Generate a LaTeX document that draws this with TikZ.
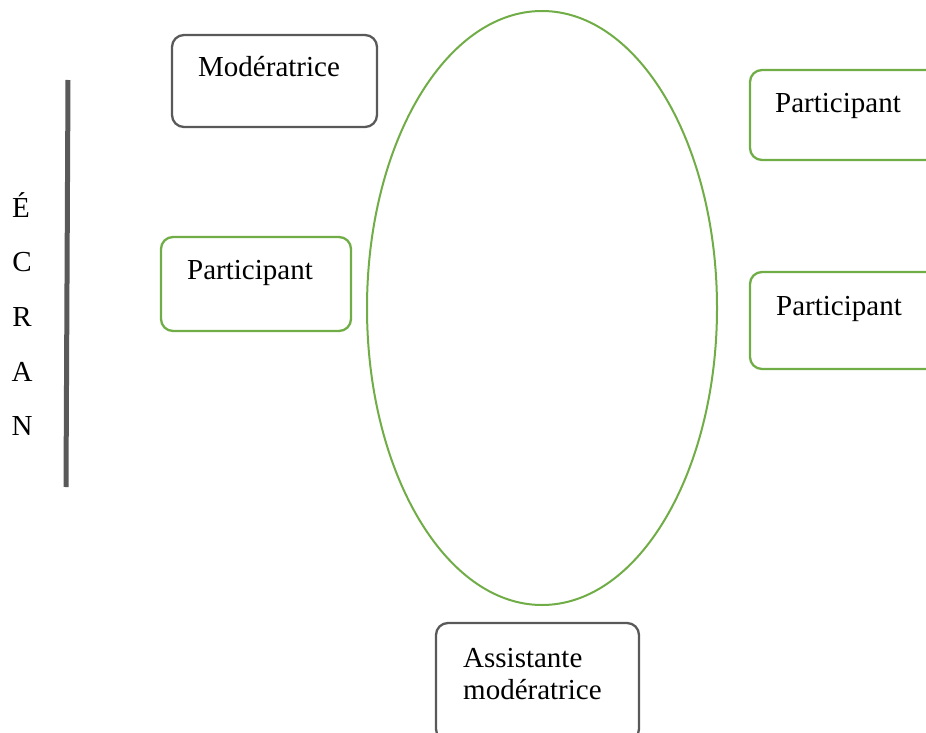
\documentclass[tikz,border=0pt]{standalone}
\usepackage{fontspec}
\setmainfont{Liberation Serif}
\usetikzlibrary{shapes.geometric}
\begin{document}
\begin{tikzpicture}[x=1pt,y=-1pt,
  box/.style={draw,rounded corners=12pt,line width=2.3pt,inner sep=0pt,fill=none},
  graybox/.style={box,draw=boxgray},
  greenbox/.style={box,draw=boxgreen},
  lbl/.style={anchor=base west,inner sep=0pt,font=\fontsize{29}{33}\selectfont},
  letter/.style={anchor=base,inner sep=0pt,font=\fontsize{29}{33}\selectfont}]
\definecolor{boxgray}{HTML}{595959}
\definecolor{boxgreen}{HTML}{70AD47}
\useasboundingbox (0,0) rectangle (926,733);
\clip (0,0) rectangle (926,733);
% screen
\coordinate (s1) at (68,80);
\coordinate (s2) at (66,487);
\draw[boxgray,line width=5pt] (s1) -- (s2);
\node[letter] (e1) at (21,217) {É};
\node[letter] (e2) at (22,271) {C};
\node[letter] (e3) at (22,326) {R};
\node[letter] (e4) at (22,381) {A};
\node[letter] (e5) at (22,435) {N};
% table
\node[draw=boxgreen,line width=2pt,ellipse,minimum width=350pt,minimum height=594pt,inner sep=0pt] (table) at (542,308) {};
% boxes
\node[graybox,minimum width=205pt,minimum height=92pt] (mod) at (274.5,81) {};
\node[lbl] (modt) at (198,77) {Modératrice};
\node[greenbox,minimum width=190pt,minimum height=94pt] (p1) at (256,284) {};
\node[lbl] (p1t) at (187,279) {Participant};
\node[greenbox,minimum width=190pt,minimum height=90pt] (p2) at (845,115) {};
\node[lbl] (p2t) at (775,113) {Participant};
\node[greenbox,minimum width=190pt,minimum height=97pt] (p3) at (845,320.5) {};
\node[lbl] (p3t) at (776,315) {Participant};
\node[graybox,minimum width=203pt,minimum height=118pt] (ass) at (537.5,682) {};
\node[lbl] (asst1) at (463,667) {Assistante};
\node[lbl] (asst2) at (463,699) {modératrice};
\end{tikzpicture}
\end{document}
